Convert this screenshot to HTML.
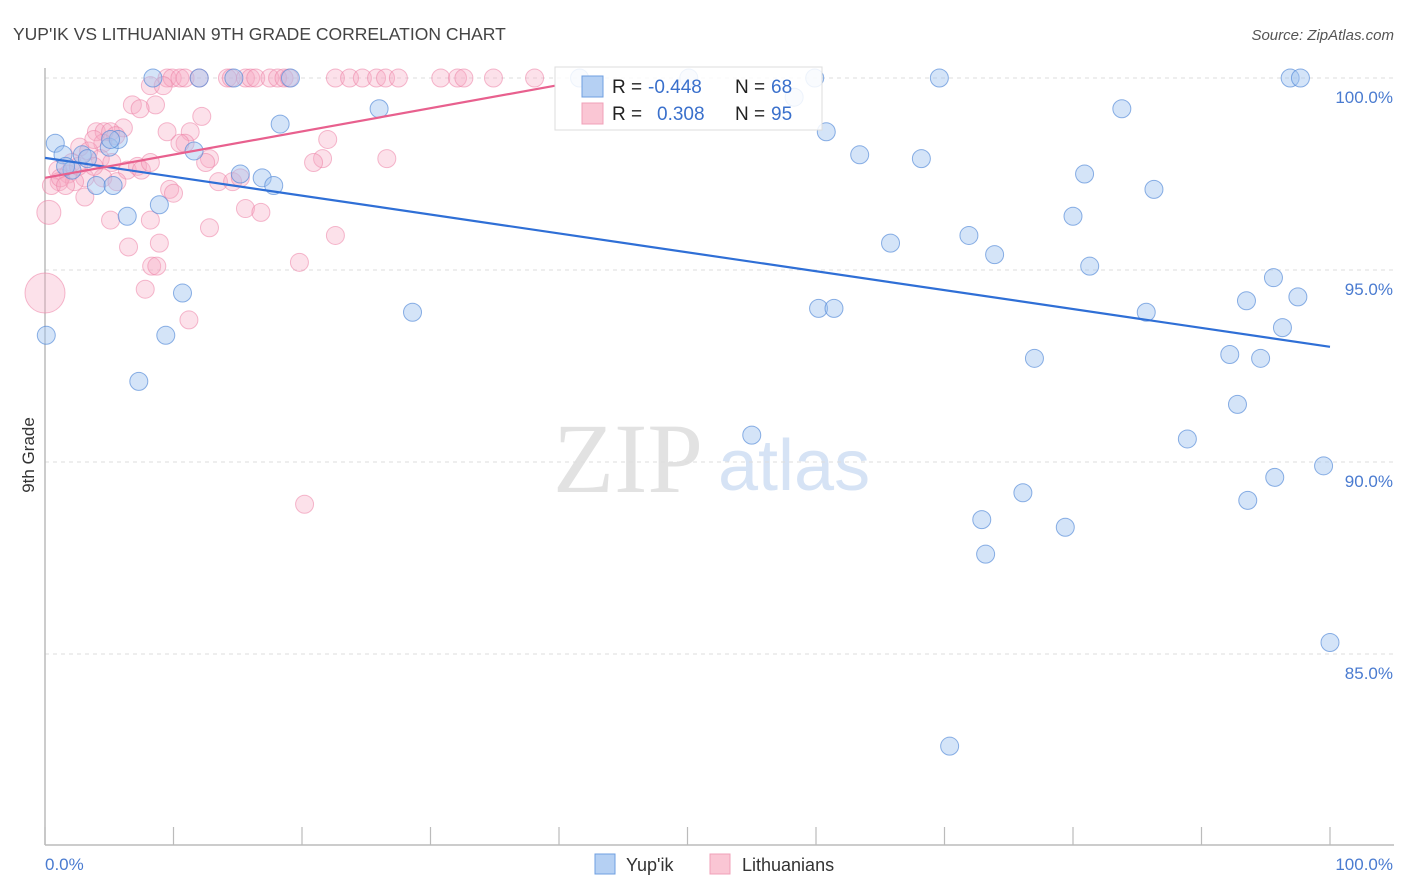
<!DOCTYPE html>
<html><head><meta charset="utf-8"><style>
body{margin:0;background:#fff;font-family:"Liberation Sans",sans-serif}
svg{display:block}
</style></head><body>
<svg id="chart" width="1406" height="892" xmlns="http://www.w3.org/2000/svg">
<text x="13" y="40" font-size="17.5" fill="#444">YUP'IK VS LITHUANIAN 9TH GRADE CORRELATION CHART</text>
<text x="1394" y="40" font-size="15" fill="#555" font-style="italic" text-anchor="end">Source: ZipAtlas.com</text>
<text transform="translate(34,455) rotate(-90)" font-size="17" fill="#333" text-anchor="middle">9th Grade</text>
<g>
<text x="553" y="492" font-family="Liberation Serif,serif" font-size="100" fill="#e2e2e2">ZIP</text>
<text x="718" y="490" font-size="72" fill="#d6e3f5">atlas</text>
</g>
<g id="grid"></g>
<g id="axes"></g>
<g id="pinkPts"></g>
<g id="bluePts"></g>
<g id="trends"></g>
<g>
<rect x="555" y="67" width="267" height="63" fill="#fff" fill-opacity="0.85" stroke="#ddd"/>
<rect x="582" y="76" width="21" height="21" fill="#b5d0f3" stroke="#6f9fe0"/>
<rect x="582" y="103" width="21" height="21" fill="#fac6d4" stroke="#f0a0b8"/>
<text x="612" y="93" font-size="19" fill="#222">R = </text><text x="648" y="93" font-size="19" fill="#3a70cc">-0.448</text>
<text x="735" y="93" font-size="19" fill="#222">N = </text><text x="771" y="93" font-size="19" fill="#3a70cc">68</text>
<text x="612" y="120" font-size="19" fill="#222">R = </text><text x="657" y="120" font-size="19" fill="#3a70cc">0.308</text>
<text x="735" y="120" font-size="19" fill="#222">N = </text><text x="771" y="120" font-size="19" fill="#3a70cc">95</text>
</g>
<g>
<rect x="595" y="854" width="20" height="20" fill="#b5d0f3" stroke="#6f9fe0"/>
<text x="626" y="871" font-size="18" fill="#333">Yup'ik</text>
<rect x="710" y="854" width="20" height="20" fill="#fac6d4" stroke="#f0a0b8"/>
<text x="742" y="871" font-size="18" fill="#333">Lithuanians</text>
</g>
</svg>
<script>
const yTicks=[100,95,90,85];
const yTickLabels=["100.0%","95.0%","90.0%","85.0%"];
const xTicks=[0,10,20,30,40,50,60,70,80,90,100];
const xEndLabels=["0.0%","100.0%"];
const blueX=[8.4,14.7,19.1,12.0,41.6,50.1,59.9,69.6,96.9,97.7,0.8,1.4,2.9,3.3,2.1,4.0,5.3,6.4,5.0,5.7,8.9,11.6,15.2,16.9,17.8,18.3,26.0,58.3,60.8,63.4,68.2,83.8,80.9,86.3,80.0,71.9,73.9,65.8,81.3,95.6,97.5,93.5,85.7,60.2,61.4,28.6,10.7,9.4,0.1,7.3,96.3,77.0,92.2,94.6,92.8,88.9,55.0,99.5,95.7,93.6,76.1,72.9,79.4,73.2,100.0,70.4,5.1,1.6];
const blueY=[100,100,100,100,100,100,100,100,100,100,98.3,98.0,98.0,97.9,97.6,97.2,97.2,96.4,98.2,98.4,96.7,98.1,97.5,97.4,97.2,98.8,99.2,99.5,98.6,98.0,97.9,99.2,97.5,97.1,96.4,95.9,95.4,95.7,95.1,94.8,94.3,94.2,93.9,94.0,94.0,93.9,94.4,93.3,93.3,92.1,93.5,92.7,92.8,92.7,91.5,90.6,90.7,89.9,89.6,89.0,89.2,88.5,88.3,87.6,85.3,82.6,98.4,97.7];
const pinkX=[9.5,9.9,10.5,10.9,12.0,14.2,14.5,15.6,16.0,16.4,17.5,18.1,18.6,19.0,22.6,23.7,24.7,25.8,26.5,27.5,30.8,32.1,32.6,34.9,38.1,8.2,9.2,6.8,8.6,7.4,12.2,9.5,11.3,6.1,4.0,4.6,5.1,5.5,4.5,2.7,3.4,3.8,2.1,1.0,1.8,3.1,4.3,5.2,6.4,7.2,7.5,8.2,1.1,2.3,4.5,5.6,0.5,9.7,10.0,12.8,12.5,13.5,14.6,15.6,16.8,12.8,5.1,8.2,6.5,8.9,8.3,8.7,19.8,22.6,22.0,21.6,20.9,26.6,7.8,11.2,0.3,0.0,20.2,3.1,1.2,1.6,2.6,3.8,10.9,10.5,15.2];
const pinkY=[100,100,100,100,100,100,100,100,100,100,100,100,100,100,100,100,100,100,100,100,100,100,100,100,100,99.8,99.8,99.3,99.3,99.2,99.0,98.6,98.6,98.7,98.6,98.6,98.6,98.5,98.3,98.2,98.1,98.4,97.8,97.6,97.5,97.4,97.9,97.8,97.6,97.7,97.6,97.8,97.3,97.3,97.4,97.3,97.2,97.1,97.0,97.9,97.8,97.3,97.3,96.6,96.5,96.1,96.3,96.3,95.6,95.7,95.1,95.1,95.2,95.9,98.4,97.9,97.8,97.9,94.5,93.7,96.5,94.4,88.9,96.9,97.4,97.2,97.7,97.7,98.3,98.3,97.4];
const pinkBig=[{i:80,r:12},{i:81,r:20}];
const blueTrend=[[0,97.92],[100,93.0]];
const pinkTrend=[[0,97.4],[39.7,99.8]];
const NS="http://www.w3.org/2000/svg";
const X0=45,X1=1330,Y100=78,PX5=192;
const sx=v=>X0+(X1-X0)*v/100;
const sy=v=>Y100+(100-v)*PX5/5;
function mk(tag,attrs,parent){const e=document.createElementNS(NS,tag);for(const k in attrs)e.setAttribute(k,attrs[k]);parent.appendChild(e);return e;}
const grid=document.getElementById('grid');
yTicks.forEach((t,i)=>{
 const l=mk('line',{x1:X0,x2:1394,y1:sy(t),y2:sy(t),stroke:'#ddd','stroke-dasharray':'4,4'},grid);
 
 
 const tx=mk('text',{x:1393,y:sy(t)+25,'font-size':17,fill:'#4a7bd0','text-anchor':'end'},grid);
 tx.textContent=yTickLabels[i];
 
 
});
const axes=document.getElementById('axes');
const ya=mk('line',{x1:X0,x2:X0,y1:68,y2:845,stroke:'#bbb','stroke-width':1.5},axes);


const xa=mk('line',{x1:X0,x2:1394,y1:845,y2:845,stroke:'#bbb','stroke-width':1.5},axes);


xTicks.forEach(t=>{
 const l=mk('line',{x1:sx(t),x2:sx(t),y1:827,y2:845,stroke:'#bbb','stroke-width':1.2},axes);
 
 
});
const xl0=mk('text',{x:X0,y:870,'font-size':17,fill:'#4a7bd0'},axes);
xl0.textContent=xEndLabels[0];


const xl1=mk('text',{x:1393,y:870,'font-size':17,fill:'#4a7bd0','text-anchor':'end'},axes);
xl1.textContent=xEndLabels[1];


const pg=document.getElementById('pinkPts');
pinkX.forEach((x,i)=>{
 let r=9;pinkBig.forEach(b=>{if(b.i===i)r=b.r;});
 const c=mk('circle',{cx:sx(x),cy:sy(pinkY[i]),r:r,fill:'rgba(247,170,195,0.35)',stroke:'rgba(236,130,165,0.55)','stroke-width':1},pg);
 
 
});
const bg=document.getElementById('bluePts');
blueX.forEach((x,i)=>{
 const c=mk('circle',{cx:sx(x),cy:sy(blueY[i]),r:9,fill:'rgba(160,196,240,0.45)',stroke:'rgba(80,135,215,0.65)','stroke-width':1},bg);
 
 
});
const tg=document.getElementById('trends');
const bl=mk('line',{x1:sx(blueTrend[0][0]),y1:sy(blueTrend[0][1]),x2:sx(blueTrend[1][0]),y2:sy(blueTrend[1][1]),stroke:'#2f6fd6','stroke-width':2.2},tg);


const pl=mk('line',{x1:sx(pinkTrend[0][0]),y1:sy(pinkTrend[0][1]),x2:sx(pinkTrend[1][0]),y2:sy(pinkTrend[1][1]),stroke:'#e8608e','stroke-width':2.2},tg);


</script>
</body></html>
